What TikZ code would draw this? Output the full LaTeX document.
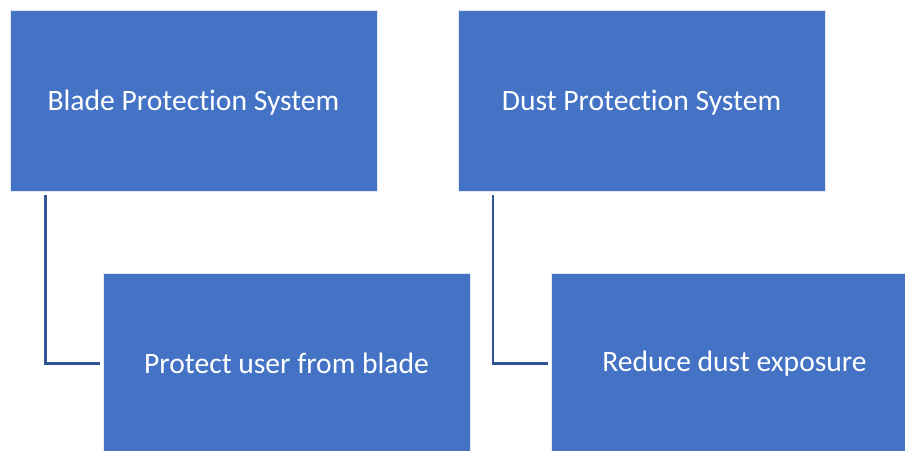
\documentclass[tikz,border=0pt]{standalone}
\usepackage{fontspec}
\setmainfont{Carlito}[Ligatures={NoCommon}]
\definecolor{boxblue}{HTML}{4472C4}
\definecolor{linkblue}{HTML}{2F5597}
\begin{document}
\begin{tikzpicture}[x=1pt,y=-1pt,
  box/.style={fill=boxblue,draw=white!85!boxblue,line width=0.8pt,
    minimum width=367pt,minimum height=181pt,inner sep=0pt},
  caption/.style={text=white,font=\fontsize{29.6}{34}\selectfont,yshift=-1.5pt},
  conn/.style={draw=linkblue,line width=2.4pt}]
\useasboundingbox (0,0) rectangle (905,450);
\clip (0,0) rectangle (905,450);
\fill[white] (0,0) rectangle (905,450);
% parent boxes
\node[box] (b1) at (193.5,101) {};
\node[box] (b2) at (641.5,101) {};
% child boxes
\node[box] (b3) at (286.5,363.5) {};
\node[box] (b4) at (734.5,363.5) {};
% box captions
\node[caption] (t1) at (b1) {Blade Protection System};
\node[caption] (t2) at (b2) {Dust Protection System};
\node[caption] (t3) at ([yshift=1.5pt]b3) {Protect user from blade};
\node[caption] (t4) at ([yshift=1pt]b4) {Reduce dust exposure};
% elbow connectors
\draw[conn] ([xshift=35.7pt,yshift=-3pt]b1.south west) |- ([xshift=-3pt]b3.west);
\draw[conn] ([xshift=35.3pt,yshift=-3pt]b2.south west) |- ([xshift=-3pt]b4.west);
\end{tikzpicture}
\end{document}
